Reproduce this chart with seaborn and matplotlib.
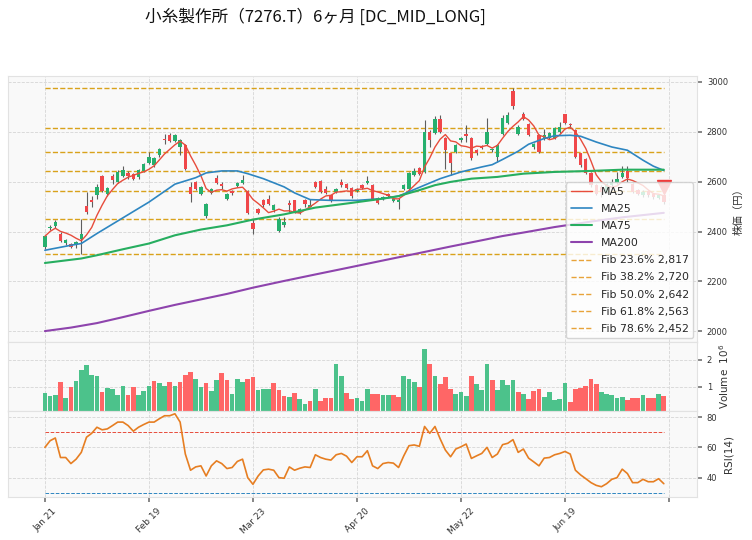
import matplotlib
matplotlib.use('Agg')
import matplotlib.pyplot as plt
import numpy as np
import pandas as pd
import seaborn as sns
from matplotlib.lines import Line2D

# ---- data ----
tick_pos = [0, 20, 40, 60, 80, 100, 120]
tick_labels = ['Jan 21', 'Feb 19', 'Mar 23', 'Apr 20', 'May 22', 'Jun 19', '']

opens = [2338, 2415, 2421, 2392, 2354, 2349, 2349, 2369, 2503, 2528,
         2546, 2622, 2550, 2622, 2599, 2622, 2635, 2632, 2617, 2643,
         2675, 2666, 2706, 2773, 2789, 2764, 2739, 2746, 2580, 2599,
         2550, 2461, 2555, 2616, 2590, 2530, 2563, 2582, 2595, 2563,
         2435, 2492, 2528, 2530, 2485, 2402, 2425, 2515, 2525, 2475,
         2528, 2500, 2599, 2603, 2572, 2545, 2559, 2599, 2590, 2575,
         2563, 2586, 2594, 2588, 2534, 2530, 2552, 2523, 2520, 2571,
         2572, 2626, 2655, 2640, 2800, 2795, 2853, 2775, 2713, 2719,
         2766, 2790, 2775, 2726, 2743, 2752, 2725, 2697, 2793, 2835,
         2962, 2793, 2873, 2833, 2739, 2786, 2773, 2775, 2775, 2800,
         2870, 2833, 2806, 2713, 2690, 2636, 2588, 2580, 2560, 2585,
         2596, 2620, 2642, 2590, 2565, 2548, 2562, 2550, 2535, 2545]
closes = [2381, 2420, 2439, 2362, 2368, 2338, 2358, 2389, 2479, 2519,
          2579, 2563, 2575, 2606, 2639, 2646, 2623, 2612, 2646, 2670,
          2697, 2693, 2729, 2766, 2762, 2789, 2766, 2649, 2552, 2572,
          2579, 2510, 2572, 2596, 2582, 2550, 2555, 2594, 2608, 2475,
          2412, 2475, 2505, 2512, 2505, 2452, 2439, 2508, 2479, 2492,
          2512, 2508, 2579, 2559, 2556, 2525, 2572, 2586, 2576, 2541,
          2572, 2576, 2602, 2530, 2514, 2539, 2543, 2532, 2526, 2586,
          2635, 2642, 2632, 2800, 2766, 2853, 2800, 2725, 2673, 2746,
          2776, 2784, 2693, 2713, 2736, 2800, 2731, 2747, 2857, 2869,
          2905, 2820, 2853, 2789, 2749, 2719, 2789, 2795, 2815, 2820,
          2837, 2826, 2699, 2666, 2636, 2585, 2552, 2560, 2590, 2600,
          2612, 2636, 2615, 2560, 2552, 2560, 2548, 2540, 2548, 2520]
highs = [2388, 2428, 2445, 2400, 2372, 2355, 2362, 2452, 2559, 2541,
         2590, 2625, 2580, 2630, 2645, 2664, 2642, 2636, 2650, 2675,
         2719, 2698, 2733, 2790, 2795, 2793, 2770, 2750, 2600, 2603,
         2583, 2515, 2576, 2625, 2600, 2553, 2566, 2598, 2625, 2565,
         2452, 2496, 2532, 2548, 2510, 2460, 2458, 2525, 2527, 2496,
         2530, 2530, 2602, 2606, 2582, 2548, 2576, 2610, 2594, 2578,
         2576, 2590, 2622, 2592, 2537, 2543, 2556, 2536, 2535, 2590,
         2640, 2655, 2660, 2848, 2806, 2862, 2866, 2780, 2716, 2750,
         2780, 2826, 2778, 2730, 2748, 2857, 2736, 2752, 2866, 2878,
         2974, 2826, 2880, 2836, 2753, 2790, 2810, 2800, 2820, 2840,
         2873, 2836, 2810, 2716, 2693, 2640, 2592, 2585, 2595, 2612,
         2640, 2662, 2662, 2595, 2570, 2565, 2566, 2555, 2552, 2550]
lows = [2330, 2405, 2416, 2358, 2348, 2333, 2335, 2310, 2472, 2499,
        2532, 2560, 2542, 2592, 2595, 2618, 2612, 2608, 2612, 2640,
        2672, 2660, 2700, 2750, 2758, 2760, 2706, 2645, 2517, 2568,
        2545, 2455, 2550, 2592, 2570, 2525, 2548, 2578, 2592, 2470,
        2392, 2470, 2500, 2508, 2480, 2398, 2420, 2478, 2475, 2470,
        2500, 2497, 2575, 2555, 2552, 2520, 2556, 2580, 2572, 2536,
        2558, 2572, 2590, 2526, 2510, 2526, 2538, 2518, 2490, 2567,
        2568, 2622, 2628, 2636, 2740, 2790, 2796, 2650, 2628, 2715,
        2760, 2760, 2688, 2708, 2730, 2748, 2720, 2680, 2788, 2830,
        2890, 2788, 2848, 2785, 2730, 2715, 2768, 2770, 2770, 2796,
        2832, 2815, 2695, 2660, 2630, 2580, 2545, 2540, 2555, 2580,
        2592, 2615, 2599, 2555, 2545, 2540, 2540, 2530, 2530, 2512]

# volume in millions of shares
volume = [0.76, 0.66, 0.70, 1.19, 0.58, 1.00, 1.22, 1.60, 1.79, 1.45,
          1.38, 0.81, 0.96, 0.91, 0.70, 1.04, 0.70, 1.00, 0.70, 0.85,
          1.04, 1.22, 1.12, 1.04, 1.19, 1.04, 1.19, 1.45, 1.56, 1.29,
          0.98, 1.15, 0.85, 1.23, 1.49, 1.23, 0.73, 1.29, 1.16, 1.30,
          1.34, 0.89, 0.93, 0.93, 1.15, 0.89, 0.66, 0.63, 0.78, 0.54,
          0.36, 0.48, 0.93, 0.48, 0.59, 0.59, 1.83, 1.41, 0.78, 0.55,
          0.59, 0.48, 0.93, 0.74, 0.74, 0.70, 0.68, 0.70, 0.63, 1.41,
          1.29, 1.19, 1.00, 2.39, 1.83, 1.41, 1.11, 1.34, 0.93, 0.74,
          0.81, 0.66, 1.41, 1.11, 0.89, 1.83, 1.23, 0.89, 1.23, 1.08,
          1.26, 0.81, 0.74, 0.55, 0.85, 0.93, 0.63, 0.81, 0.51, 0.55,
          1.15, 0.44, 0.93, 0.96, 1.04, 1.30, 1.11, 0.81, 0.74, 0.70,
          0.59, 0.63, 0.51, 0.59, 0.59, 0.70, 0.59, 0.59, 0.74, 0.66]

rsi = [60.0, 64.4, 66.2, 53.3, 53.3, 49.3, 52.2, 56.7, 66.7, 69.3,
       73.3, 71.6, 72.2, 74.4, 76.7, 76.7, 74.4, 70.7, 73.3, 75.1,
       76.7, 76.7, 78.9, 80.9, 80.9, 82.2, 76.7, 55.6, 44.9, 47.1,
       47.8, 41.1, 47.8, 51.1, 49.3, 46.0, 46.7, 50.7, 52.2, 40.0,
       35.6, 41.1, 45.1, 45.6, 44.9, 40.0, 39.6, 47.1, 44.9, 46.2,
       47.1, 46.7, 55.1, 53.3, 52.2, 51.6, 55.1, 56.0, 54.2, 50.0,
       53.8, 53.8, 57.8, 47.8, 46.0, 49.3, 50.0, 49.6, 46.7, 54.4,
       61.1, 61.6, 60.7, 73.8, 69.3, 73.8, 65.6, 58.2, 53.8, 58.9,
       60.4, 62.2, 52.7, 54.4, 56.0, 60.0, 53.3, 55.6, 61.8, 62.7,
       65.1, 56.7, 58.9, 52.9, 50.4, 47.8, 52.9, 53.3, 55.1, 56.0,
       57.3, 55.6, 44.9, 41.8, 39.3, 36.7, 34.9, 34.0, 36.0, 38.9,
       40.0, 45.6, 42.7, 36.7, 36.7, 38.9, 37.3, 37.3, 39.3, 36.0]

ma25_idx = [0, 5, 7, 10, 15, 20, 25, 29, 31, 34, 37, 39, 42, 46, 48, 51, 55, 60, 65,
            68, 73, 76, 80, 84, 86, 88, 91, 93, 96, 98, 101, 103, 106, 109, 112, 115, 117, 119]
ma25_val = [2325, 2345, 2352, 2392, 2455, 2518, 2590, 2616, 2635, 2643, 2643, 2632, 2612,
            2579, 2555, 2528, 2525, 2525, 2532, 2542, 2586, 2612, 2639, 2659, 2668, 2689,
            2722, 2750, 2773, 2784, 2786, 2782, 2759, 2739, 2726, 2686, 2662, 2645]
ma75_idx = [0, 7, 10, 15, 20, 25, 30, 35, 40, 46, 52, 59, 65, 68, 72, 75, 78, 82, 87,
            92, 98, 105, 111, 119]
ma75_val = [2274, 2292, 2305, 2329, 2352, 2385, 2408, 2425, 2448, 2469, 2496, 2515, 2532,
            2542, 2566, 2586, 2599, 2612, 2619, 2632, 2639, 2643, 2648, 2648]
ma200_idx = [0, 5, 10, 15, 20, 25, 30, 35, 40, 46, 52, 59, 65, 72, 78, 84, 88, 92, 98,
             105, 111, 119]
ma200_val = [2001, 2015, 2033, 2057, 2082, 2106, 2128, 2150, 2175, 2202, 2228, 2258, 2284,
             2314, 2340, 2365, 2382, 2396, 2418, 2440, 2457, 2475]

fib_levels = [2974, 2817, 2720, 2642, 2563, 2452, 2310]
fib_labels = [None, 'Fib 23.6% 2,817', 'Fib 38.2% 2,720', 'Fib 50.0% 2,642',
              'Fib 61.8% 2,563', 'Fib 78.6% 2,452', None]

signal_idx = [119]
signal_price = [2578]

# ---- style ----
sns.set_theme(style='whitegrid')
plt.rcParams['font.family'] = ['DejaVu Sans', 'Noto Sans CJK JP']
jp = ['Noto Sans CJK JP', 'DejaVu Sans']

UP, DOWN = '#26b06e', '#f0474a'
VUP, VDOWN = '#4cc28b', '#ff6666'

fig = plt.figure(figsize=(7.52, 5.4), dpi=100)
gs = fig.add_gridspec(3, 1, height_ratios=[266, 69, 86], hspace=0,
                      left=0.0106, right=0.927, top=0.859, bottom=0.0796)
ax = fig.add_subplot(gs[0])
axv = fig.add_subplot(gs[1], sharex=ax)
axr = fig.add_subplot(gs[2], sharex=ax)

x = np.arange(len(closes))
o = np.array(opens)
c = np.array(closes)
n = len(x) - 1

# fib levels
fib_handles = []
for lvl, lab in zip(fib_levels, fib_labels):
    ax.plot([0, n], [lvl, lvl], ls='--', lw=1.0, color='#d9a21b', zorder=1)
    if lab:
        fib_handles.append(Line2D([], [], ls='--', lw=1.0, color='#e8a33a', label=lab))

# candles
ax.vlines(x, lows, highs, color='#5e5e5e', lw=0.8, zorder=2)
body_col = np.where(c >= o, UP, DOWN)
ax.bar(x, np.maximum(np.abs(c - o), 1.5), bottom=np.minimum(o, c), width=0.65,
       color=body_col, linewidth=0, zorder=3)

ma5 = pd.Series(closes).rolling(5, min_periods=1).mean()
sns.lineplot(x=x, y=ma5, ax=ax, color='#e74c3c', lw=1.0, zorder=4, label='MA5')
sns.lineplot(x=ma25_idx, y=ma25_val, ax=ax, color='#2e86c1', lw=1.2, zorder=4, label='MA25')
sns.lineplot(x=ma75_idx, y=ma75_val, ax=ax, color='#27ae60', lw=1.5, zorder=4, label='MA75')
sns.lineplot(x=ma200_idx, y=ma200_val, ax=ax, color='#8e44ad', lw=1.5, zorder=4, label='MA200')
ax.plot(signal_idx, signal_price, ls='none', marker='v', ms=10, color='#ef3b3b', zorder=4)

ma_handles = ax.get_legend_handles_labels()[0]
ax.legend(handles=ma_handles + fib_handles, loc='lower right', fontsize=7.8,
          labelspacing=0.66, borderaxespad=0.35, framealpha=0.8,
          edgecolor='#cccccc', facecolor='white')

# volume
prev = np.concatenate([[c[0]], c[:-1]])
vol_col = np.where(c >= prev, VUP, VDOWN)
axv.bar(x, volume, width=0.9, color=vol_col, linewidth=0, zorder=2)

# RSI
sns.lineplot(x=x, y=rsi, ax=axr, color='#e67e22', lw=1.2, legend=False, zorder=3)
axr.plot([0, n], [70, 70], ls='--', lw=0.7, color='#e74c3c', zorder=2)
axr.plot([0, n], [30, 30], ls='--', lw=0.7, color='#2e86c1', zorder=2)

# axes cosmetics
for a in (ax, axv, axr):
    a.set_facecolor('#f9f9f9')
    a.grid(True, ls='--', color='#d6d6d6', lw=0.6)
    a.set_axisbelow(True)
    a.yaxis.tick_right()
    a.yaxis.set_label_position('right')
    a.tick_params(axis='y', right=True, left=False, labelsize=6, length=3.5,
                  color='#777777', labelcolor='#333333')
    for s in a.spines.values():
        s.set_color('#e2e2e2')
        s.set_linewidth(0.8)

ax.set_xlim(-7.1, 125.4)
ax.set_xticks(tick_pos)
ax.set_ylim(1957, 3023)
ax.set_yticks([2000, 2200, 2400, 2600, 2800, 3000])
axv.set_ylim(0.1, 2.65)
axv.set_yticks([1, 2])
axr.set_ylim(27.2, 84)
axr.set_yticks([40, 60, 80])

ax.tick_params(axis='x', labelbottom=False, bottom=False)
axv.tick_params(axis='x', labelbottom=False, bottom=False)
axr.set_xticks(tick_pos)
axr.set_xticklabels(tick_labels, rotation=45, fontsize=6.5, color='#333333')
axr.tick_params(axis='x', bottom=True, length=3.5, color='#777777')

ax.set_xlabel('')
axv.set_xlabel('')
axr.set_xlabel('')
ax.set_ylabel('株価（円）', fontsize=7.5, family=jp, color='#333333')
axv.set_ylabel('Volume  $10^{6}$', fontsize=7.5, color='#333333')
axr.set_ylabel('RSI(14)', fontsize=7.5, color='#333333')

fig.text(0.42, 0.968, '小糸製作所（7276.T）6ヶ月 [DC_MID_LONG]', ha='center', va='center',
         fontsize=12, family=jp, color='#111111')

fig.savefig('out.png', dpi=100)
